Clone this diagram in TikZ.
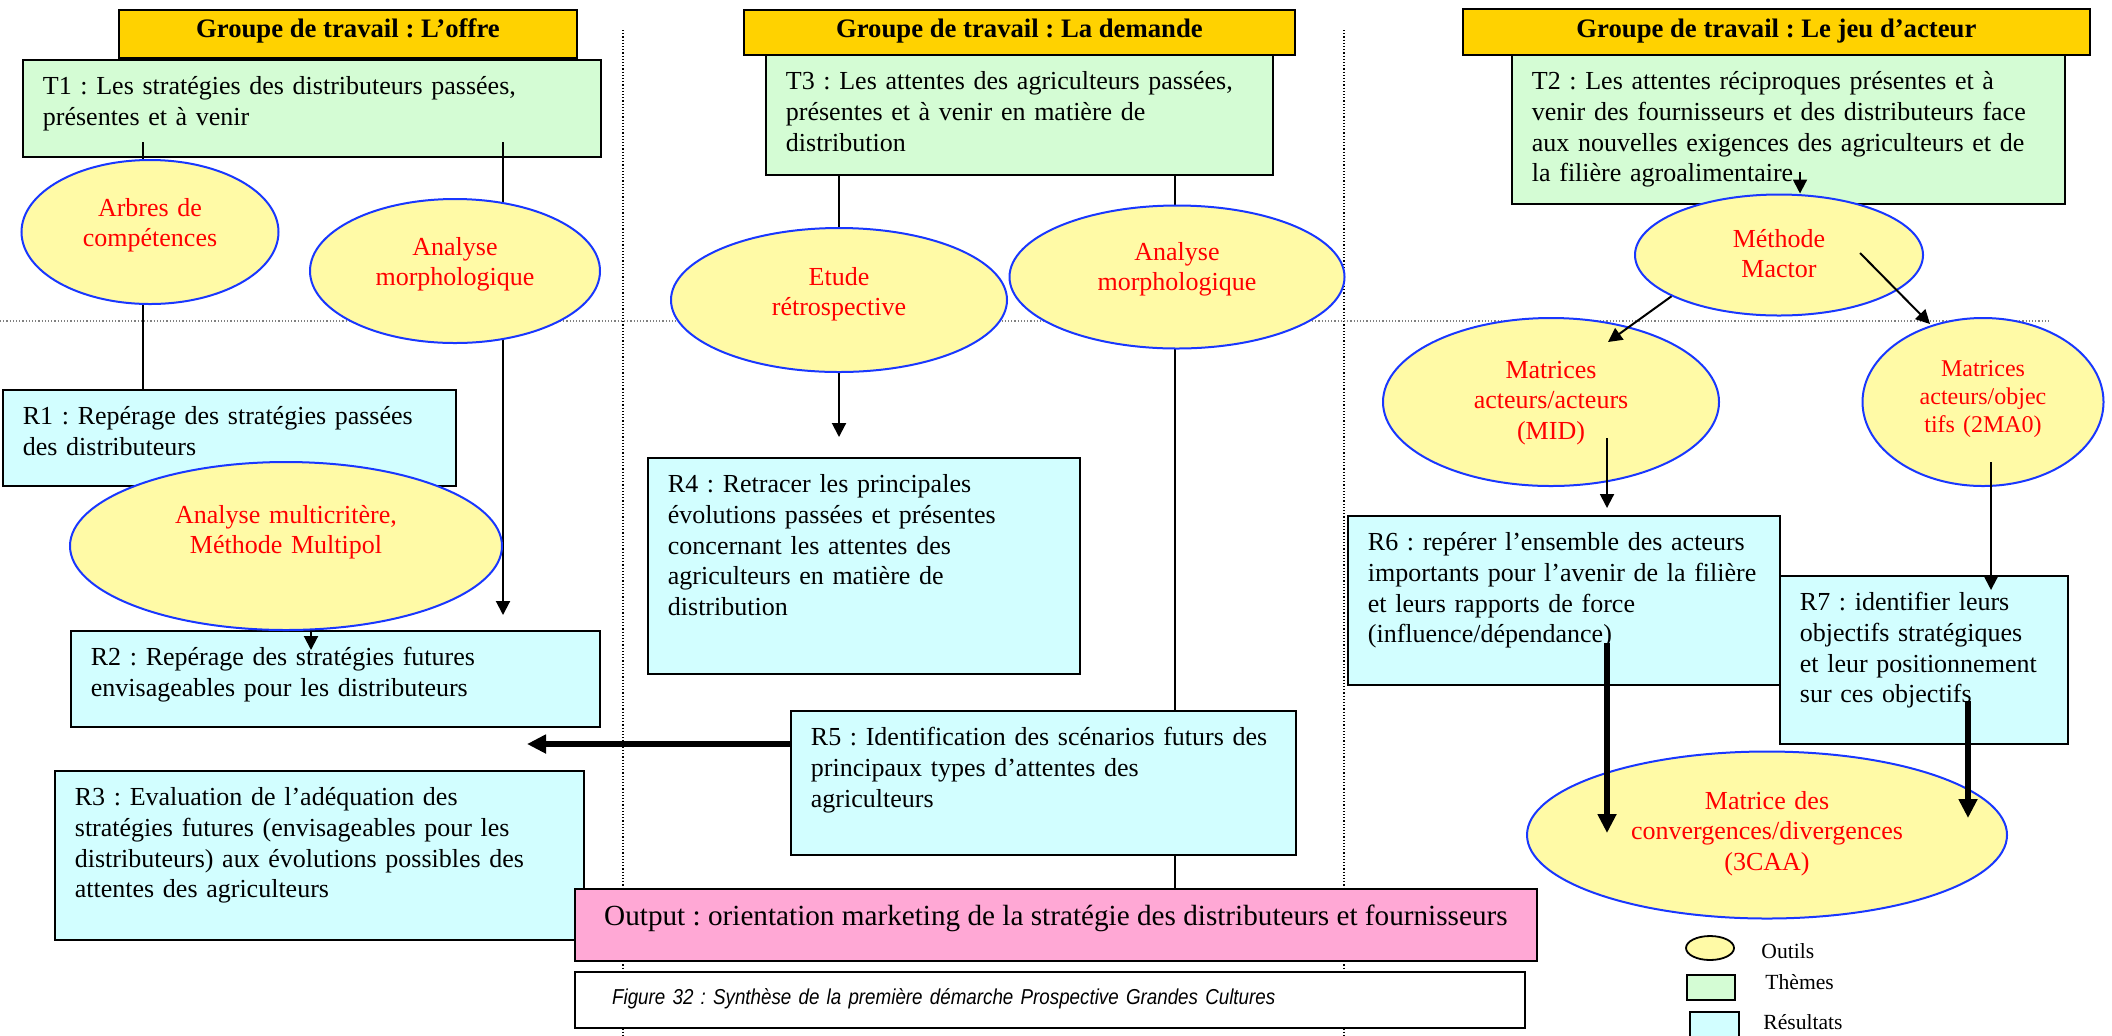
\documentclass[tikz,border=0pt]{standalone}
\usepackage{fontspec}
\setmainfont{Liberation Serif}
\setsansfont{Liberation Sans}
\newfontfamily\etroite{Liberation Sans}[FakeStretch=0.87]
\usepackage{xcolor}
\usetikzlibrary{shapes.geometric, arrows.meta}
\definecolor{gold}{RGB}{255,210,0}
\definecolor{mint}{RGB}{212,252,212}
\definecolor{aqua}{RGB}{210,254,255}
\definecolor{cream}{RGB}{255,250,166}
\definecolor{rose}{RGB}{255,168,213}
\definecolor{royal}{RGB}{25,55,255}
\newcommand{\texte}{\fontsize{13}{15.3}\selectfont}
\frenchspacing

\begin{document}
\begin{tikzpicture}[x=0.5pt, y=-0.5pt,
    groupe/.style={rectangle, draw, line width=0.9pt, fill=gold, anchor=north west, inner sep=0pt, font=\bfseries\fontsize{13.35}{15.3}\selectfont},
    theme/.style={rectangle, draw, line width=0.9pt, fill=mint, anchor=north west, align=left, inner xsep=10pt, inner ysep=0pt, text height=17.5pt, font=\texte},
    resultat/.style={theme, fill=aqua},
    outil/.style={ellipse, draw=royal, line width=1pt, fill=cream, text=red, align=center, text width=84pt, text height=0pt, inner sep=0pt, font=\texte},
    cle/.style={anchor=base west, inner sep=0pt, font=\fontsize{10.8}{12}\selectfont},
    trait/.style={line width=1pt},
    fleche/.style={-{Triangle[length=7pt, width=7pt]}, line width=1pt},
    grosse/.style={-{Triangle[length=9.5pt, width=9pt]}, line width=3pt},
    separation/.style={densely dotted, line width=0.6pt}
]
    \useasboundingbox (0,0) rectangle (2112,1035);

    \draw[separation] (623,30) -- (623,1035);
    \draw[separation] (1344,30) -- (1344,1035);
    \draw[separation, gray] (0,321) -- (2051,321);

    \node[groupe, minimum width=229pt, text height=14pt, text depth=10pt] (g-offre) at (118,9) {Groupe de travail : L’offre};
    \node[groupe, minimum width=275.5pt, text height=14pt, text depth=8.5pt] (g-demande) at (743,9) {Groupe de travail : La demande};
    \node[groupe, minimum width=313.5pt, text height=14.5pt, text depth=8.5pt] (g-acteur) at (1462,8) {Groupe de travail : Le jeu d’acteur};

    \node[theme, text width=269pt, text depth=31pt] (t1) at (22,59) {T1 : Les stratégies des distributeurs passées,\\présentes et à venir};
    \node[theme, text width=233.5pt, text depth=42.5pt] (t3) at (765,54) {T3 : Les attentes des agriculteurs passées,\\présentes et à venir en matière de\\distribution};
    \node[theme, text width=256.5pt, text depth=57pt] (t2) at (1511,54) {T2 : Les attentes réciproques présentes et à\\venir des fournisseurs et des distributeurs face\\aux nouvelles exigences des agriculteurs et de\\la filière agroalimentaire};

    \node[resultat, text width=206.5pt, text depth=30.5pt] (r1) at (2,389) {R1 : Repérage des stratégies passées\\des distributeurs};
    \node[resultat, text width=244.5pt, text depth=30.5pt] (r2) at (70,630) {R2 : Repérage des stratégies futures\\envisageables pour les distributeurs};
    \node[resultat, text width=244.5pt, text depth=67pt] (r3) at (54,770) {R3 : Evaluation de l’adéquation des\\stratégies futures (envisageables pour les\\distributeurs) aux évolutions possibles des\\attentes des agriculteurs};
    \node[resultat, text width=196pt, text depth=90.5pt] (r4) at (647,457) {R4 : Retracer les principales\\évolutions passées et présentes\\concernant les attentes des\\agriculteurs en matière de\\distribution};
    \node[resultat, text width=232.5pt, text depth=54.5pt] (r5) at (790,710) {R5 : Identification des scénarios futurs des\\principaux types d’attentes des\\agriculteurs};
    \node[resultat, text width=196pt, text depth=67pt] (r6) at (1347,515) {R6 : repérer l’ensemble des acteurs\\importants pour l’avenir de la filière\\et leurs rapports de force\\(influence/dépendance)};
    \node[resultat, text width=124pt, text depth=66.5pt] (r7) at (1779,575) {R7 : identifier leurs\\objectifs stratégiques\\et leur positionnement\\sur ces objectifs};

    \node[rectangle, draw, line width=0.9pt, fill=rose, anchor=north west, inner sep=0pt, minimum width=481pt, text height=18.5pt, text depth=17.5pt, font=\fontsize{14.6}{16.8}\selectfont] (output) at (574,888) {Output : orientation marketing de la stratégie des distributeurs et fournisseurs};
    \node[rectangle, draw, line width=1.1pt, fill=white, anchor=north west, align=left, text width=438pt, inner xsep=18.5pt, inner ysep=0pt, text height=16pt, text depth=12pt, font=\etroite\itshape\fontsize{10.8}{12}\selectfont] (figure) at (574,971) {Figure 32 : Synthèse de la première démarche Prospective Grandes Cultures};

    \coordinate (t1-g) at (143,142);
    \coordinate (t1-d) at (503,142);
    \coordinate (r2-fl) at (503,615);
    \coordinate (r4-fl) at (839,437);
    \coordinate (t3-d) at (1175,174);

    \draw[trait] (t1-g) -- (t1-g |- r1.north);
    \draw[fleche] (t1-d) -- (r2-fl);
    \draw[fleche] (t3.south -| r4-fl) -- (r4-fl);
    \draw[trait] (t3-d) -- (t3-d |- r5.north);
    \draw[trait] (r5.south -| t3-d) -- (output.north -| t3-d);

    \node[outil, minimum width=128.5pt, minimum height=72pt, text depth=16pt] (arbres) at (150,232) {Arbres de\\compétences};
    \node[outil, minimum width=145pt, minimum height=72pt, text depth=16pt] (morpho-o) at (455,271) {Analyse\\morphologique};
    \node[outil, minimum width=216pt, minimum height=84pt, text width=125pt, text depth=23pt] (multi) at (286,546) {Analyse multicritère,\\Méthode Multipol};
    \node[outil, minimum width=168pt, minimum height=72pt, text depth=15pt] (etude) at (839,300) {Etude\\rétrospective};
    \node[outil, minimum width=167.5pt, minimum height=71.5pt, text depth=17pt] (morpho-d) at (1177,277) {Analyse\\morphologique};
    \node[outil, minimum width=144pt, minimum height=60.5pt, text depth=8pt] (mactor) at (1779,255) {Méthode\\Mactor};
    \node[outil, minimum width=168pt, minimum height=84pt, text depth=24pt] (mid) at (1551,402) {Matrices\\acteurs/acteurs\\(MID)};
    \node[outil, minimum width=120.5pt, minimum height=84pt, text depth=26pt, font=\fontsize{12}{14}\selectfont] (mao) at (1983,402) {Matrices\\acteurs/objec\\tifs (2MA0)};
    \node[outil, minimum width=240pt, minimum height=83.5pt, text width=150pt, text depth=26pt] (caa) at (1767,835) {Matrice des\\convergences/divergences\\(3CAA)};

    \coordinate (r2-m) at (311,650);
    \coordinate (t2-m) at (1800,172);
    \coordinate (mactor-d) at (1860,253);
    \coordinate (mid-fl) at (1608,342);
    \coordinate (mao-fl) at (1930,324);
    \coordinate (mid-b) at (1607,438);
    \coordinate (mao-b) at (1991,462);
    \coordinate (r7-fl) at (1991,590);
    \coordinate (r6-b) at (1607,643);
    \coordinate (caa-g) at (1607,833);
    \coordinate (r7-b) at (1968,701);
    \coordinate (caa-d) at (1968,818);
    \coordinate (retour) at (527,744);

    \draw[fleche] (multi.south -| r2-m) -- (r2-m);
    \draw[fleche] (t2-m) -- (t2-m |- mactor.north);
    \draw[fleche] (mactor.201) -- (mid-fl);
    \draw[fleche] (mactor-d) -- (mao-fl);
    \draw[fleche, shorten >=3.5pt] (mid-b) -- (mid-b |- r6.north);
    \draw[fleche] (mao-b) -- (r7-fl);
    \draw[grosse] (r6-b) -- (caa-g);
    \draw[grosse] (r7-b) -- (caa-d);
    \draw[grosse] (r5.west |- retour) -- (retour);

    \node[ellipse, draw, line width=0.9pt, fill=cream, minimum width=24pt, minimum height=12pt, inner sep=0pt] (leg-outil) at (1710,948) {};
    \node[rectangle, draw, line width=0.9pt, fill=mint, anchor=north west, minimum width=24pt, minimum height=12.5pt, inner sep=0pt] (leg-theme) at (1686,974) {};
    \node[rectangle, draw, line width=0.9pt, fill=aqua, anchor=north west, minimum width=24.5pt, minimum height=13pt, inner sep=0pt] (leg-res) at (1689,1011) {};
    \node[cle] (cle-outil) at (1761,958) {Outils};
    \node[cle] (cle-theme) at (1765,989) {Thèmes};
    \node[cle] (cle-res) at (1763,1029) {Résultats};
\end{tikzpicture}
\end{document}
